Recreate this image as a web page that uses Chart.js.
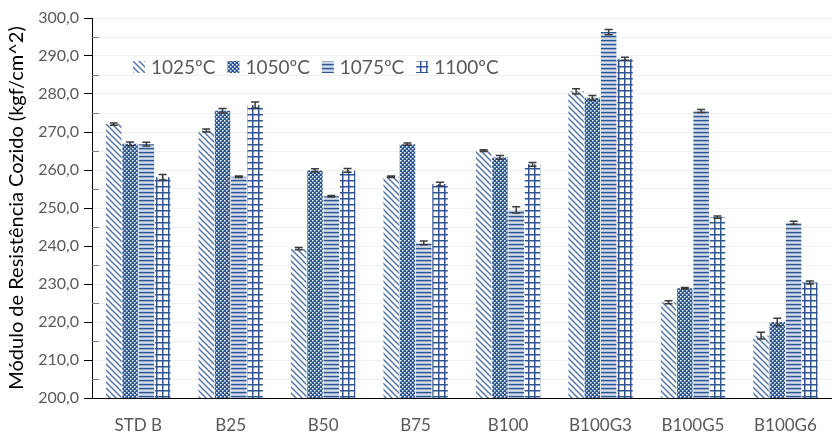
<!DOCTYPE html>
<html>
<head>
<meta charset="utf-8">
<script src="https://cdn.jsdelivr.net/npm/chart.js@4.4.1/dist/chart.umd.min.js"></script>
<style>
  html, body { margin: 0; padding: 0; background: #ffffff; }
  #wrap { width: 834px; height: 432px; }
</style>
</head>
<body>
<div id="wrap"><canvas id="chart" width="834" height="432"></canvas></div>
<script>
// Sample groups on the x axis
const categories = ['STD B', 'B25', 'B50', 'B75', 'B100', 'B100G3', 'B100G5', 'B100G6'];

// Firing temperatures (one series each)
const seriesLabels = ['1025ºC', '1050ºC', '1075ºC', '1100ºC'];

// Fired modulus of rupture (kgf/cm^2) per sample, per temperature
const mor1025 = [272.1, 270.4, 239.3, 258.2, 265.1, 280.7, 225.2, 216.4];
const mor1050 = [266.9, 275.6, 259.9, 266.8, 263.3, 279.0, 228.9, 220.0];
const mor1075 = [266.8, 258.2, 253.1, 240.8, 249.5, 296.3, 275.5, 246.1];
const mor1100 = [258.1, 277.1, 259.9, 256.3, 261.5, 289.3, 247.6, 230.4];

// Standard deviations shown as error bars
const err1025 = [0.3, 0.4, 0.3, 0.2, 0.2, 0.7, 0.4, 0.9];
const err1050 = [0.5, 0.6, 0.4, 0.3, 0.5, 0.6, 0.2, 1.0];
const err1075 = [0.5, 0.2, 0.2, 0.5, 0.8, 0.7, 0.4, 0.4];
const err1100 = [0.7, 0.8, 0.5, 0.5, 0.5, 0.4, 0.3, 0.4];

// Y axis range and tick labels
const yMin = 200, yMax = 300, yStep = 5;
const yTickLabels = ['200,0', '210,0', '220,0', '230,0', '240,0', '250,0', '260,0', '270,0', '280,0', '290,0', '300,0'];

const BLUE = '#2c5592';
const FONT = 'Lato, "Open Sans", sans-serif';

function tile(w, h, paint) {
  const c = document.createElement('canvas');
  c.width = w; c.height = h;
  const g = c.getContext('2d');
  paint(g);
  return document.getElementById('chart').getContext('2d').createPattern(c, 'repeat');
}

// Downward diagonal stripes
const patDiag = tile(6, 6, g => {
  g.fillStyle = '#ffffff'; g.fillRect(0, 0, 6, 6);
  g.strokeStyle = '#5475a8'; g.lineWidth = 1.5;
  for (let k = -6; k <= 12; k += 6) {
    g.beginPath(); g.moveTo(k - 1, -1); g.lineTo(k + 7, 7); g.stroke();
  }
});
// Dark fill with white dots
const patDots = tile(4, 4, g => {
  g.fillStyle = BLUE; g.fillRect(0, 0, 4, 4);
  g.fillStyle = '#ffffff';
  g.fillRect(0, 0, 1.5, 1.5);
  g.fillRect(2, 2, 1.5, 1.5);
});
// Horizontal stripes
const patHoriz = tile(4, 4, g => {
  g.fillStyle = '#ffffff'; g.fillRect(0, 0, 4, 4);
  g.fillStyle = BLUE; g.fillRect(0, 0, 4, 1.4);
  g.fillStyle = '#8fa5c8'; g.fillRect(0, 1.4, 4, 1);
  g.fillStyle = '#b9c7dd'; g.fillRect(0, 3, 4, 1);
});
// Grid
const patGrid = tile(6, 6, g => {
  g.fillStyle = '#ffffff'; g.fillRect(0, 0, 6, 6);
  g.fillStyle = BLUE;
  g.fillRect(0, 0, 1.5, 6);
  g.fillRect(0, 0, 6, 1.5);
});

const patterns = [patDiag, patDots, patHoriz, patGrid];
const values = [mor1025, mor1050, mor1075, mor1100];
const errors = [err1025, err1050, err1075, err1100];

// Error bars drawn at each bar's centre from the y scale
const errorBars = {
  id: 'errorBars',
  afterDatasetsDraw(chart) {
    const ctx = chart.ctx, y = chart.scales.y;
    ctx.save();
    ctx.strokeStyle = '#3a3a3a';
    ctx.lineWidth = 1.5;
    chart.data.datasets.forEach((ds, i) => {
      const meta = chart.getDatasetMeta(i);
      meta.data.forEach((bar, j) => {
        const v = ds.data[j], e = ds.errors[j];
        const yt = y.getPixelForValue(v + e), yb = y.getPixelForValue(v - e);
        const x = bar.x, cap = 4;
        ctx.beginPath();
        ctx.moveTo(x, yt); ctx.lineTo(x, yb);
        ctx.moveTo(x - cap, yt); ctx.lineTo(x + cap, yt);
        ctx.moveTo(x - cap, yb); ctx.lineTo(x + cap, yb);
        ctx.stroke();
      });
    });
    ctx.restore();
  }
};

// Minor tick marks inside the y axis
const minorTicks = {
  id: 'minorTicks',
  afterDraw(chart) {
    const ctx = chart.ctx, y = chart.scales.y, x0 = chart.chartArea.left;
    ctx.save();
    ctx.strokeStyle = '#7f7f7f';
    ctx.lineWidth = 1;
    for (let v = yMin + 5; v < yMax; v += 10) {
      const py = Math.round(y.getPixelForValue(v)) + 0.5;
      ctx.beginPath(); ctx.moveTo(x0, py); ctx.lineTo(x0 + 7, py); ctx.stroke();
    }
    ctx.restore();
  }
};

// Legend placed inside the plot area
const innerLegend = {
  id: 'innerLegend',
  afterDraw(chart) {
    const ctx = chart.ctx;
    ctx.save();
    ctx.font = '19px ' + FONT;
    ctx.textBaseline = 'middle';
    let x = 133;
    const yc = 67, box = 12;
    chart.data.datasets.forEach((ds, i) => {
      ctx.fillStyle = ds.backgroundColor;
      ctx.fillRect(x, yc - box / 2, box, box);
      x += box + 6;
      ctx.fillStyle = '#595959';
      ctx.fillText(ds.label, x, yc + 1);
      x += ctx.measureText(ds.label).width + 12;
    });
    ctx.restore();
  }
};

new Chart(document.getElementById('chart'), {
  type: 'bar',
  data: {
    labels: categories,
    datasets: seriesLabels.map((label, i) => ({
      label,
      data: values[i],
      errors: errors[i],
      backgroundColor: patterns[i],
      borderWidth: 0,
      categoryPercentage: 0.705,
      barPercentage: 0.95
    }))
  },
  options: {
    responsive: false,
    animation: false,
    devicePixelRatio: 1,
    layout: { padding: { left: 0, right: 2, top: 18, bottom: 0 } },
    plugins: {
      legend: { display: false },
      tooltip: { enabled: false }
    },
    scales: {
      x: {
        grid: { display: false, drawTicks: false },
        border: { display: true, color: '#000000', width: 1 },
        ticks: {
          color: '#595959',
          font: { family: FONT, size: 17 },
          padding: 17
        },
        afterFit(s) { s.height = 34; }
      },
      y: {
        min: yMin,
        max: yMax,
        border: { display: true, color: '#000000', width: 1 },
        grid: {
          color: '#f0f0f0',
          lineWidth: 1,
          drawTicks: true,
          tickLength: 8,
          tickColor: c => (c.tick && Math.round(c.tick.value) % 10 === 0) ? '#000000' : 'rgba(0,0,0,0)'
        },
        ticks: {
          stepSize: yStep,
          autoSkip: false,
          color: '#595959',
          font: { family: FONT, size: 16 },
          padding: 5,
          callback: v => (Math.round(v) % 10 === 0) ? yTickLabels[(Math.round(v) - yMin) / 10] : ''
        },
        title: {
          display: true,
          text: 'Módulo de Resistência Cozido (kgf/cm^2)',
          color: '#000000',
          font: { family: FONT, size: 20 },
          padding: { top: 5, bottom: 0 }
        },
        afterFit(s) { s.width = 92; }
      }
    }
  },
  plugins: [errorBars, minorTicks, innerLegend]
});
</script>
</body>
</html>
